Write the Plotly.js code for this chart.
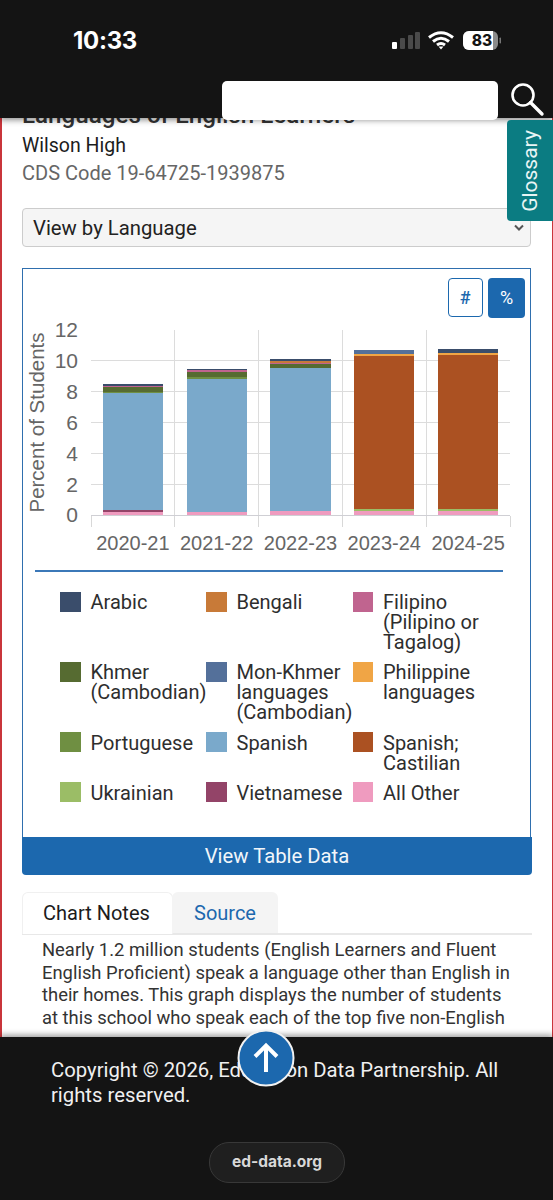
<!DOCTYPE html>
<html>
<head>
<meta charset="utf-8">
<script src="https://cdn.plot.ly/plotly-3.0.1.min.js"></script>
<style>
html,body{margin:0;padding:0;background:#fff;}
body{width:553px;height:1200px;position:relative;overflow:hidden;font-family:Roboto,sans-serif;}
.a{position:absolute;white-space:nowrap;}
.legtext{font-size:20px;line-height:20px;color:#2e2e2e;white-space:pre;}
</style>
</head>
<body>
<div class="a" style="left:0;top:100px;width:1.5px;height:940px;background:#c9353b"></div>
<div class="a" style="left:551.5px;top:100px;width:1.5px;height:940px;background:#c9353b"></div>

<div class="a" style="left:22px;top:101px;font-size:24.2px;line-height:28px;font-weight:500;color:#333">Languages of English Learners</div>
<div class="a" style="left:22px;top:134px;font-size:19.5px;line-height:24px;color:#1c1c1c">Wilson High</div>
<div class="a" style="left:22px;top:161px;font-size:20px;line-height:24px;color:#666">CDS Code 19-64725-1939875</div>

<div class="a" style="left:22px;top:208px;width:507px;height:37px;background:#f5f5f5;border:1.5px solid #ccc;border-radius:4px"></div>
<div class="a" style="left:33px;top:216px;font-size:20.3px;line-height:24px;color:#222">View by Language</div>
<svg class="a" style="left:514px;top:224px" width="10" height="8"><path d="M1 1.5 L5 5.5 L9 1.5" fill="none" stroke="#555" stroke-width="2"/></svg>

<div class="a" style="left:22px;top:268px;width:507px;height:570px;border:1.5px solid #2f6fae;border-bottom:none"></div>
<div class="a" style="left:448px;top:278px;width:32.5px;height:37px;border:1.5px solid #1c68ae;border-radius:4px;background:#fff;text-align:center;line-height:37px;font-size:18px;font-weight:500;color:#1c68ae">#</div>
<div class="a" style="left:488px;top:278px;width:37px;height:40px;border-radius:4px;background:#1c68ae;text-align:center;line-height:40px;font-size:18px;color:#fff">%</div>
<div class="a" style="left:35px;top:570px;width:468px;height:1.5px;background:#3b78b8"></div>

<div id="chart" class="a" style="left:0;top:0;width:553px;height:1200px"></div>
<div id="legend"></div>

<div class="a" style="left:22px;top:837px;width:510px;height:38px;background:#1c68ae;border-radius:0 0 4px 4px;text-align:center;line-height:39px;font-size:20.3px;color:#f2f6fa">View Table Data</div>

<div class="a" style="left:22px;top:933px;width:510px;height:1.5px;background:#e8e8e8"></div>
<div class="a" style="left:22px;top:892px;width:149px;height:41px;border:1.5px solid #f0f0f0;border-bottom:none;border-radius:6px 6px 0 0;background:#fff"></div>
<div class="a" style="left:172px;top:892px;width:106px;height:41px;background:#f4f4f4;border-radius:6px 6px 0 0"></div>
<div class="a" style="left:43px;top:901px;font-size:20px;line-height:24px;color:#1c1c1c">Chart Notes</div>
<div class="a" style="left:194px;top:901px;font-size:20px;line-height:24px;color:#1c68ae">Source</div>
<div class="a" style="left:42px;top:939px;font-size:18.4px;line-height:22.7px;color:#333">Nearly 1.2 million students (English Learners and Fluent<br>English Proficient) speak a language other than English in<br>their homes. This graph displays the number of students<br>at this school who speak each of the top five non-English</div>

<!-- top bar -->
<div class="a" style="left:0;top:0;width:553px;height:117.5px;background:#141414;box-shadow:0 2px 6px rgba(0,0,0,.45)"></div>
<div class="a" style="left:73px;top:25px;font-size:24px;line-height:32px;font-weight:700;color:#fff;font-family:Inter,Roboto,sans-serif;letter-spacing:-.3px">10:33</div>
<svg class="a" style="left:390px;top:30px" width="115" height="24">
  <rect x="2" y="12" width="5" height="7" rx="1" fill="#fff"/>
  <rect x="10" y="8" width="5" height="11" rx="1" fill="#4a4a4a"/>
  <rect x="18" y="5" width="5" height="14" rx="1" fill="#4a4a4a"/>
  <rect x="25" y="2" width="5" height="17" rx="1" fill="#4a4a4a"/>
  <path d="M39 7.5 Q51 -2 63 7.5 M43 11.5 Q51 5 59 11.5 M47 15 Q51 12 55 15" fill="none" stroke="#fff" stroke-width="3"/>
  <path d="M48.5 16.5 L53.5 16.5 L51 19.5 Z" fill="#fff"/>
  <rect x="73" y="1" width="35" height="19" rx="6" fill="#8a8a8a"/>
  <path d="M79 1 H103 V20 H79 A6 6 0 0 1 73 14 V7 A6 6 0 0 1 79 1 Z" fill="#fff"/>
  <rect x="109.5" y="7.5" width="1.5" height="6" rx=".7" fill="#777"/>
</svg>
<div class="a" style="left:463px;top:30px;width:38px;text-align:center;font-family:Inter,Roboto,sans-serif;font-size:15.5px;line-height:21px;font-weight:800;color:#141414">83</div>
<div class="a" style="left:222px;top:81px;width:276px;height:39px;background:#fff;border-radius:5px"></div>
<svg class="a" style="left:509px;top:81px" width="37" height="37"><circle cx="14" cy="14" r="10.5" fill="none" stroke="#fff" stroke-width="2.6"/><path d="M21.5 21.5 L33 33" stroke="#fff" stroke-width="3.4" stroke-linecap="round"/></svg>

<div class="a" style="left:507px;top:120px;width:46px;height:101px;background:#0b7c82;border-radius:4px 0 0 4px"></div>
<div class="a" style="left:530px;top:171px;font-size:21px;line-height:24px;color:#e9f5f5;transform:translate(-50%,-50%) rotate(-90deg)">Glossary</div>

<!-- footer -->
<div class="a" style="left:0;top:1037px;width:553px;height:163px;background:#141414;box-shadow:0 -2px 6px rgba(0,0,0,.4)"></div>
<div class="a" style="left:51px;top:1057.5px;font-size:20.3px;line-height:25px;color:#f0f0f0">Copyright © 2026, Education Data Partnership. All<br>rights reserved.</div>
<svg class="a" style="left:237px;top:1029px" width="58" height="58"><circle cx="29" cy="29" r="27.5" fill="#1c68ae" stroke="#f2f2f2" stroke-width="2"/><path d="M29 43 V17 M18 27.5 L29 16.5 L40 27.5" fill="none" stroke="#fff" stroke-width="4"/></svg>
<div class="a" style="left:209px;top:1142px;width:134px;height:38.5px;background:#1f1f1f;border:1px solid #383838;border-radius:20px;text-align:center;line-height:38.5px;font-size:15.5px;font-weight:700;color:#d8d8d8;font-family:Inter,Roboto,sans-serif">ed-data.org</div>

<script>
var years = ["2020-21","2021-22","2022-23","2023-24","2024-25"];
var allOther      = [0.20,0.22,0.28,0.25,0.27];
var vietnamese    = [0.10,0,0,0,0];
var ukrainian     = [0,0,0,0.17,0.15];
var spanishCast   = [0,0,0,9.89,9.98];
var spanish       = [7.60,8.58,9.24,0,0];
var portuguese    = [0.10,0.12,0,0,0];
var philippine    = [0,0,0,0.11,0.12];
var monKhmer      = [0,0,0,0.28,0];
var khmer         = [0.30,0.38,0.25,0,0];
var filipino      = [0.10,0.10,0.12,0,0];
var bengali       = [0,0,0.11,0,0];
var arabic        = [0.10,0.10,0.10,0,0.26];

var stackOrder = [
  ["All Other", allOther, "#ef9bbf"],
  ["Vietnamese", vietnamese, "#934468"],
  ["Ukrainian", ukrainian, "#9bbd66"],
  ["Spanish; Castilian", spanishCast, "#ab5122"],
  ["Spanish", spanish, "#7aa9cb"],
  ["Portuguese", portuguese, "#6f8f42"],
  ["Philippine languages", philippine, "#f0a545"],
  ["Mon-Khmer languages (Cambodian)", monKhmer, "#54709a"],
  ["Khmer (Cambodian)", khmer, "#566b31"],
  ["Filipino (Pilipino or Tagalog)", filipino, "#c0648f"],
  ["Bengali", bengali, "#c87a38"],
  ["Arabic", arabic, "#3a4d6b"]
];

var traces = stackOrder.map(function(s){
  return {type:"bar", name:s[0], x:years, y:s[1], marker:{color:s[2], line:{width:0}}, hoverinfo:"none"};
});

var layout = {
  barmode:"stack", bargap:0.28, showlegend:false,
  paper_bgcolor:"rgba(0,0,0,0)", plot_bgcolor:"rgba(0,0,0,0)",
  width:553, height:1200,
  margin:{l:91, r:43, t:329.5, b:684.5, pad:0},
  font:{family:"'Liberation Sans',Arial,sans-serif", color:"#666"},
  xaxis:{type:"category", tickson:"boundaries", ticks:"outside", ticklen:11, tickwidth:1, tickcolor:"#d8d8d8",
         showgrid:true, gridcolor:"#dcdcdc", gridwidth:1, showline:true, linecolor:"#cfcfd4", linewidth:1,
         tickfont:{size:20,color:"#666"}, mirror:false, zeroline:false, ticklabelstandoff:10},
  yaxis:{range:[0,12], dtick:2, showgrid:true, gridcolor:"#dcdcdc", gridwidth:1, zeroline:false,
         tickfont:{size:21,color:"#666"}, ticks:"", ticklabelstandoff:12, showline:false,
         title:{text:"Percent of Students", font:{size:20.5,color:"#666"}, standoff:4}}
};
Plotly.newPlot("chart", traces, layout, {displayModeBar:false, staticPlot:true});

var legendItems = [
  ["Arabic", "#3a4d6b"],
  ["Bengali", "#c87a38"],
  ["Filipino\n(Pilipino or\nTagalog)", "#c0648f"],
  ["Khmer\n(Cambodian)", "#566b31"],
  ["Mon-Khmer\nlanguages\n(Cambodian)", "#54709a"],
  ["Philippine\nlanguages", "#f0a545"],
  ["Portuguese", "#6f8f42"],
  ["Spanish", "#7aa9cb"],
  ["Spanish;\nCastilian", "#ab5122"],
  ["Ukrainian", "#9bbd66"],
  ["Vietnamese", "#934468"],
  ["All Other", "#ef9bbf"]
];
var legendCols = [60, 206, 352.5];
var legendRows = [591.5, 661.7, 732, 782];
var legendEl = document.getElementById("legend");
legendItems.forEach(function(it,i){
  var c = legendCols[i%3], r = legendRows[Math.floor(i/3)];
  var sw = document.createElement("div");
  sw.className = "a";
  sw.style.cssText = "left:"+c+"px;top:"+r+"px;width:20.5px;height:20px;background:"+it[1];
  legendEl.appendChild(sw);
  var t = document.createElement("div");
  t.className = "a legtext";
  t.style.left = (c+30.5)+"px";
  t.style.top = (r+0.5)+"px";
  t.textContent = it[0];
  legendEl.appendChild(t);
});
</script>
</body>
</html>
